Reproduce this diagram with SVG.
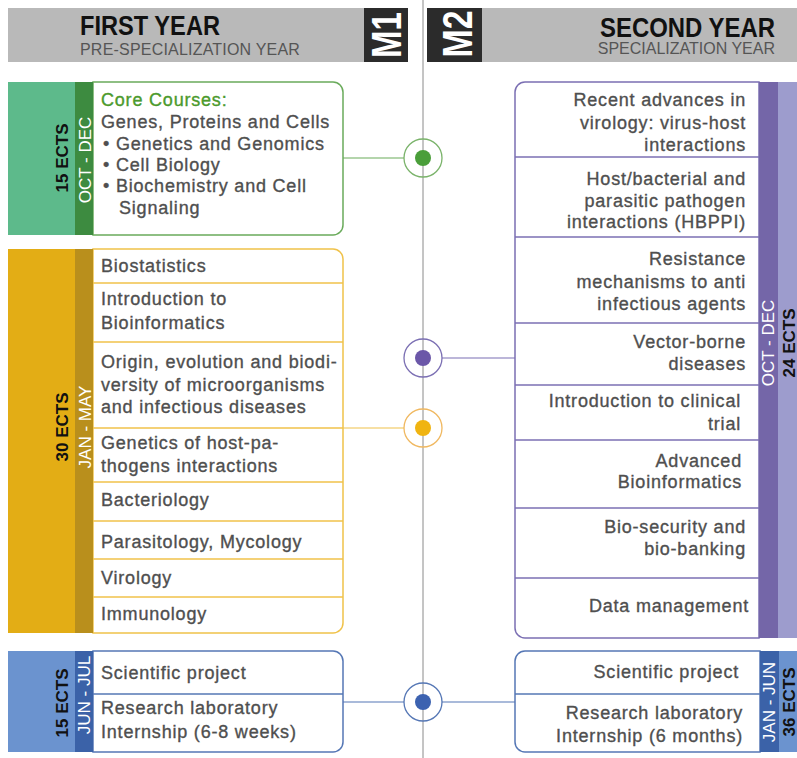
<svg xmlns="http://www.w3.org/2000/svg" width="797" height="758" viewBox="0 0 797 758">
<style>
text{font-family:"Liberation Sans",Arial,sans-serif}
.t{font-size:18px;fill:#4f4f4f;stroke:#4f4f4f;stroke-width:0.35px;letter-spacing:0.8px}
.r{text-anchor:end}
.v{font-size:17px;fill:#fff;text-anchor:middle}
.e{font-size:17px;font-weight:bold;fill:#111;text-anchor:middle}
.div{stroke-width:1.5}
</style>
<rect width="797" height="758" fill="#fff"/>
<g id="header">
<rect x="8" y="8" width="356" height="54" fill="#b9b9b9"/>
<rect x="482" y="8" width="315" height="54" fill="#b9b9b9"/>
<rect x="364" y="8" width="44" height="54" fill="#2b2b2b"/>
<rect x="427" y="8" width="55" height="54" fill="#2b2b2b"/>
<text x="80" y="35" font-size="27" font-weight="bold" fill="#111" textLength="140" lengthAdjust="spacingAndGlyphs">FIRST YEAR</text>
<text x="80" y="55" font-size="16" fill="#555" letter-spacing="0.2">PRE-SPECIALIZATION YEAR</text>
<text x="775" y="37" font-size="27" font-weight="bold" fill="#111" text-anchor="end" textLength="175" lengthAdjust="spacingAndGlyphs">SECOND YEAR</text>
<text x="775" y="54" font-size="16" fill="#555" text-anchor="end">SPECIALIZATION YEAR</text>
<text transform="translate(401,35) rotate(-90)" font-size="42" font-weight="bold" fill="#fff" text-anchor="middle" textLength="46" lengthAdjust="spacingAndGlyphs">M1</text>
<text transform="translate(472,34) rotate(-90)" font-size="42" font-weight="bold" fill="#fff" text-anchor="middle" textLength="47" lengthAdjust="spacingAndGlyphs">M2</text>
</g>
<g id="timeline">
<line x1="423" y1="0" x2="423" y2="758" stroke="#8a8a8a" stroke-width="1"/>
</g>
<g id="connectors" fill="none" stroke-width="1.2">
<line x1="343" y1="158" x2="404" y2="158" stroke="#6aab5b"/>
<line x1="442" y1="358" x2="515" y2="358" stroke="#7b6fb3"/>
<line x1="343" y1="428" x2="404" y2="428" stroke="#f0c24a"/>
<line x1="343" y1="702" x2="404" y2="702" stroke="#5577b5"/>
<line x1="442" y1="702" x2="515" y2="702" stroke="#5577b5"/>
</g>
<g id="marker-green"><circle cx="423" cy="158" r="19" fill="none" stroke="#7ab36a" stroke-width="1.3"/><circle cx="423" cy="158" r="8" fill="#4a9e3a"/></g>
<g id="marker-purple"><circle cx="423" cy="358" r="19" fill="none" stroke="#7b6fb3" stroke-width="1.3"/><circle cx="423" cy="358" r="8" fill="#6b57a8"/></g>
<g id="marker-yellow"><circle cx="423" cy="428" r="19" fill="none" stroke="#f0b860" stroke-width="1.3"/><circle cx="423" cy="428" r="8" fill="#f0b411"/></g>
<g id="marker-blue"><circle cx="423" cy="702" r="19" fill="none" stroke="#5577b5" stroke-width="1.3"/><circle cx="423" cy="702" r="8" fill="#3c62b0"/></g>

<g id="m1-core">
<path d="M93,82 H333 A10,10 0 0 1 343,92 V225 A10,10 0 0 1 333,235 H93 Z" fill="#fff" stroke="#6aab5b" stroke-width="1.5"/>
<rect x="8" y="82" width="67" height="153" fill="#5dba8b"/>
<rect x="75" y="82" width="18" height="153" fill="#3d8b40"/>
<text class="e" transform="translate(68,158) rotate(-90)">15 ECTS</text>
<text class="v" transform="translate(91,160) rotate(-90)">OCT - DEC</text>
<text class="t" x="101" y="106" style="fill:#4b9a2c;stroke:#4b9a2c">Core Courses:</text>
<text class="t" x="101" y="128">Genes, Proteins and Cells</text>
<text class="t" x="103" y="150">• Genetics and Genomics</text>
<text class="t" x="103" y="171">• Cell Biology</text>
<text class="t" x="103" y="192">• Biochemistry and Cell</text>
<text class="t" x="119" y="214">Signaling</text>
</g>

<g id="m1-semester2">
<path d="M93,249 H333 A10,10 0 0 1 343,259 V623 A10,10 0 0 1 333,633 H93 Z" fill="#fff" stroke="#f0c24a" stroke-width="1.5"/>
<g stroke="#f0c24a" class="div">
<line x1="93" y1="283" x2="343" y2="283"/>
<line x1="93" y1="342" x2="343" y2="342"/>
<line x1="93" y1="428" x2="343" y2="428"/>
<line x1="93" y1="482" x2="343" y2="482"/>
<line x1="93" y1="521" x2="343" y2="521"/>
<line x1="93" y1="559" x2="343" y2="559"/>
<line x1="93" y1="597" x2="343" y2="597"/>
</g>
<rect x="8" y="249" width="67" height="384" fill="#e3ad15"/>
<rect x="75" y="249" width="18" height="384" fill="#b98f1c"/>
<text class="e" transform="translate(68,427) rotate(-90)">30 ECTS</text>
<text class="v" transform="translate(91,427) rotate(-90)">JAN - MAY</text>
<text class="t" x="101" y="272">Biostatistics</text>
<text class="t" x="101" y="305">Introduction to</text>
<text class="t" x="101" y="329">Bioinformatics</text>
<text class="t" x="101" y="368">Origin, evolution and biodi-</text>
<text class="t" x="101" y="391">versity of microorganisms</text>
<text class="t" x="101" y="413">and infectious diseases</text>
<text class="t" x="101" y="449">Genetics of host-pa-</text>
<text class="t" x="101" y="472">thogens interactions</text>
<text class="t" x="101" y="506">Bacteriology</text>
<text class="t" x="101" y="548" letter-spacing="1.1">Parasitology, Mycology</text>
<text class="t" x="101" y="584">Virology</text>
<text class="t" x="101" y="620">Immunology</text>
</g>

<g id="m1-summer">
<path d="M93,651 H333 A10,10 0 0 1 343,661 V742 A10,10 0 0 1 333,752 H93 Z" fill="#fff" stroke="#5577b5" stroke-width="1.5"/>
<line x1="93" y1="694" x2="343" y2="694" stroke="#5577b5" class="div"/>
<rect x="8" y="651" width="67" height="101" fill="#6b93cf"/>
<rect x="75" y="651" width="18" height="101" fill="#3b62a8"/>
<text class="e" transform="translate(68,703) rotate(-90)">15 ECTS</text>
<text class="v" transform="translate(90,695) rotate(-90)">JUN - JUL</text>
<text class="t" x="101" y="679">Scientific project</text>
<text class="t" x="101" y="714">Research laboratory</text>
<text class="t" x="101" y="738">Internship (6-8 weeks)</text>
</g>

<g id="m2-semester1">
<path d="M759,82 H525 A10,10 0 0 0 515,92 V628 A10,10 0 0 0 525,638 H759 Z" fill="#fff" stroke="#7b6fb3" stroke-width="1.5"/>
<g stroke="#7b6fb3" class="div">
<line x1="515" y1="157" x2="759" y2="157"/>
<line x1="515" y1="237" x2="759" y2="237"/>
<line x1="515" y1="323" x2="759" y2="323"/>
<line x1="515" y1="385" x2="759" y2="385"/>
<line x1="515" y1="440" x2="759" y2="440"/>
<line x1="515" y1="508" x2="759" y2="508"/>
<line x1="515" y1="578" x2="759" y2="578"/>
</g>
<rect x="759" y="82" width="19" height="556" fill="#7466a8"/>
<rect x="778" y="82" width="19" height="556" fill="#9d9ccd"/>
<text class="v" transform="translate(774,343) rotate(-90)">OCT - DEC</text>
<text class="e" transform="translate(795,343) rotate(-90)">24 ECTS</text>
<text class="t r" x="746" y="106" letter-spacing="0.4">Recent advances in</text>
<text class="t r" x="746" y="129" letter-spacing="0.4">virology: virus-host</text>
<text class="t r" x="746" y="151">interactions</text>
<text class="t r" x="746" y="185">Host/bacterial and</text>
<text class="t r" x="746" y="207">parasitic pathogen</text>
<text class="t r" x="746" y="228" letter-spacing="0.5">interactions (HBPPI)</text>
<text class="t r" x="746" y="265">Resistance</text>
<text class="t r" x="746" y="288" letter-spacing="0.6">mechanisms to anti</text>
<text class="t r" x="746" y="310">infectious agents</text>
<text class="t r" x="746" y="348">Vector-borne</text>
<text class="t r" x="746" y="370">diseases</text>
<text class="t r" x="741" y="407">Introduction to clinical</text>
<text class="t r" x="741" y="430">trial</text>
<text class="t r" x="742" y="467">Advanced</text>
<text class="t r" x="742" y="488">Bioinformatics</text>
<text class="t r" x="746" y="533">Bio-security and</text>
<text class="t r" x="746" y="555">bio-banking</text>
<text class="t r" x="749" y="612" letter-spacing="1.1">Data management</text>
</g>

<g id="m2-semester2">
<path d="M760,651 H525 A10,10 0 0 0 515,661 V742 A10,10 0 0 0 525,752 H760 Z" fill="#fff" stroke="#5577b5" stroke-width="1.5"/>
<line x1="515" y1="694" x2="760" y2="694" stroke="#5577b5" class="div"/>
<rect x="760" y="651" width="19" height="101" fill="#3b62a8"/>
<rect x="779" y="651" width="18" height="101" fill="#6b93cf"/>
<text class="v" transform="translate(775,702) rotate(-90)">JAN - JUN</text>
<text class="e" transform="translate(795,702) rotate(-90)">36 ECTS</text>
<text class="t r" x="739" y="678">Scientific project</text>
<text class="t r" x="743" y="719">Research laboratory</text>
<text class="t r" x="743" y="742">Internship (6 months)</text>
</g>
</svg>
